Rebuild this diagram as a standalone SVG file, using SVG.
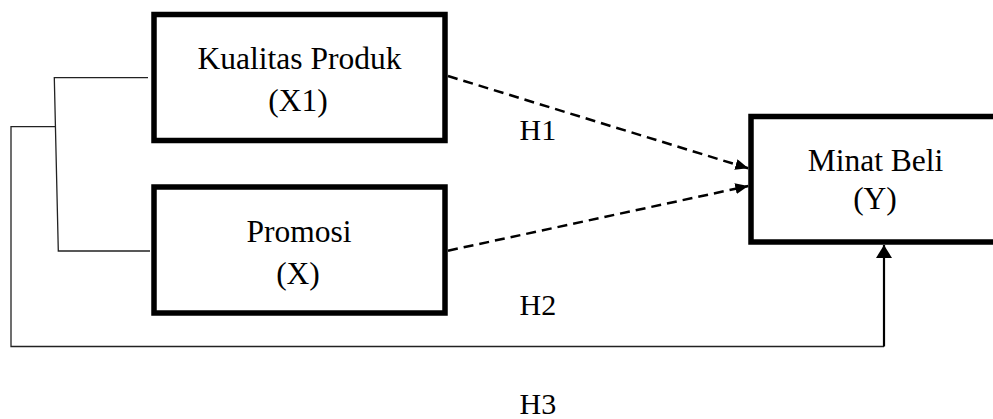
<svg xmlns="http://www.w3.org/2000/svg" width="993" height="419" viewBox="0 0 993 419">
  <style>
    .box { fill: #ffffff; stroke: #000000; stroke-width: 5.5; }
    .label { font-family: "Liberation Serif", "Times New Roman", serif; font-size: 31.5px; fill: #000000; text-anchor: middle; }
    .hyp { font-family: "Liberation Serif", "Times New Roman", serif; font-size: 30px; fill: #000000; }
    .dash { fill: none; stroke: #000000; stroke-width: 2.5; stroke-dasharray: 10 6; }
    .solid { fill: none; stroke: #000000; stroke-width: 2.2; }
    .thin { fill: none; stroke: #222222; stroke-width: 1.3; }
  </style>
  <defs>
    <marker id="head" markerUnits="userSpaceOnUse" markerWidth="14" markerHeight="12" refX="13" refY="5.5" orient="auto">
      <path d="M0,0 L13,5.5 L0,11 z" fill="#000000"/>
    </marker>
    <marker id="headUp" markerUnits="userSpaceOnUse" markerWidth="14" markerHeight="17" refX="13" refY="8" orient="auto">
      <path d="M0,0 L13,8 L0,16 z" fill="#000000"/>
    </marker>
  </defs>

  <g id="connectors">
    <!-- bracket joining X1 and X -->
    <polyline class="thin" points="148,77.7 54.3,77.7 58.3,251 150,251"/>
    <!-- H3 loop from the bracket round to Y -->
    <polyline class="thin" points="55,126.7 11,126.7 11,346.5 884,346.5"/>
    <line class="solid" x1="884" y1="346.5" x2="884" y2="245" marker-end="url(#headUp)"/>
    <!-- H1 and H2 -->
    <line class="dash" x1="448" y1="76" x2="748.3" y2="168.3" marker-end="url(#head)"/>
    <line class="dash" x1="448" y1="250.7" x2="748.3" y2="186" marker-end="url(#head)"/>
  </g>

  <g id="node-x1">
    <rect class="box" x="154" y="14.5" width="291" height="126"/>
    <text class="label" x="299.5" y="68.5">Kualitas Produk</text>
    <text class="label" x="298" y="111">(X1)</text>
  </g>

  <g id="node-x">
    <rect class="box" x="154" y="187" width="291" height="126"/>
    <text class="label" x="299" y="241.5">Promosi</text>
    <text class="label" x="298" y="284">(X)</text>
  </g>

  <g id="node-y">
    <rect class="box" x="751" y="116.5" width="249" height="125.5"/>
    <text class="label" x="875.5" y="170.5">Minat Beli</text>
    <text class="label" x="875" y="209">(Y)</text>
  </g>

  <g id="hypotheses">
    <text class="hyp" x="519.5" y="139.5">H1</text>
    <text class="hyp" x="519.5" y="314.5">H2</text>
    <text class="hyp" x="519.5" y="414">H3</text>
  </g>
</svg>
